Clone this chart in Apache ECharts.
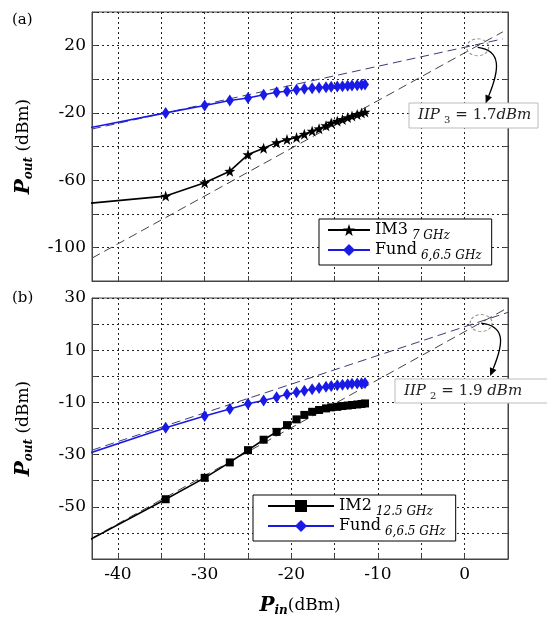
<!DOCTYPE html>
<html>
<head>
<meta charset="utf-8">
<script src="https://cdn.jsdelivr.net/npm/echarts@6/dist/echarts.min.js"></script>
<style>
  html, body { margin: 0; padding: 0; background: #fff; }
  #chart { width: 547px; height: 619px; }
</style>
</head>
<body>
<div id="chart"></div>
<script>
// ---- data ----
// input power sweep, first point lies left of the visible range (line only)
const pin = [-45, -34.5, -30, -27.1, -25, -23.2, -21.7, -20.5, -19.4, -18.5, -17.6,
  -16.8, -16, -15.4, -14.7, -14.1, -13.5, -13, -12.4, -11.9, -11.5];

// panel (a)
const fundA = [-30.6, -20, -15.6, -12.6, -11.2, -9.2, -7.7, -7.1, -6.3, -5.7, -5.3,
  -5.0, -4.7, -4.5, -4.3, -4.1, -3.9, -3.7, -3.5, -3.3, -3.1];
const im3A = [-74.6, -69.5, -61.6, -54.7, -44.8, -41, -37.7, -35.9, -34.7, -32.7, -30.8,
  -29.4, -27.6, -26.0, -24.9, -23.9, -22.8, -21.9, -20.9, -20.1, -19.5];
const extPinA = [-43, 4.4];
const fundExtA = [-29.6, 24.0];
const im3ExtA = [-106.4, 28.2];
const iip3Mark = [1.5, 19];

// panel (b)
const fundB = [-31.3, -19.7, -15.2, -12.5, -10.5, -9.3, -8.0, -6.9, -6.1, -5.5, -4.95,
  -4.5, -4.0, -3.7, -3.4, -3.2, -3.0, -2.9, -2.8, -2.7, -2.6];
const im2B = [-65.7, -47.1, -38.9, -33, -28.3, -24.3, -21.3, -18.7, -16.5, -14.8, -13.6,
  -12.9, -12.3, -11.9, -11.7, -11.4, -11.2, -11.0, -10.8, -10.6, -10.4];
const extPinB = [-43, 5];
const fundExtB = [-28.3, 24.5];
const im2ExtB = [-62, 26.3];
const iip2Mark = [1.9, 20.4];

// tick labels
const xLabels = [-40, -30, -20, -10, 0];
const yLabelsA = [-100, -60, -20, 20];
const yLabelsB = [-50, -30, -10, 10, 30];

const legendText = {
  'IM3': '{m|IM3}{s|7 GHz}',
  'Fund (a)': '{m|Fund}{s|6,6.5 GHz}',
  'IM2': '{m|IM2}{s|12.5 GHz}',
  'Fund (b)': '{m|Fund}{s|6,6.5 GHz}'
};

// ---- styling helpers ----
const SERIF = 'DejaVu Serif';
const STAR = 'path://M0,-10L2.35,-3.24L9.51,-3.09L3.8,1.24L5.88,8.09L0,4L-5.88,8.09L-3.8,1.24L-9.51,-3.09L-2.35,-3.24Z';

function pairs(xs, ys) {
  return xs.map((x, i) => [x, ys[i]]);
}

function dataSeries(name, xi, yi, ys, color, symbol, size) {
  return {
    name: name, type: 'line', xAxisIndex: xi, yAxisIndex: yi,
    data: pairs(pin, ys), symbol: symbol, symbolSize: size, showAllSymbol: true,
    lineStyle: { color: color, width: 1.6 }, itemStyle: { color: color },
    clip: true, z: 4
  };
}

function dashSeries(xi, yi, xs, ys, color) {
  return {
    type: 'line', xAxisIndex: xi, yAxisIndex: yi, data: pairs(xs, ys),
    symbol: 'none', silent: true, clip: true, z: 3,
    lineStyle: { color: color, width: 1, type: [9, 5] }
  };
}

function ringSeries(xi, yi, pt) {
  return {
    type: 'scatter', xAxisIndex: xi, yAxisIndex: yi, data: [pt], silent: true,
    symbol: 'circle', symbolSize: [22, 17], z: 5,
    itemStyle: { color: 'rgba(0,0,0,0)', borderColor: '#777', borderWidth: 1, borderType: [3, 2] }
  };
}

const gridLine = { show: true, lineStyle: { color: '#222', width: 1, type: [2, 3] } };
const tickStyle = { show: true, inside: true, length: 5, lineStyle: { color: '#444' } };
const labelStyle = { fontFamily: SERIF, fontSize: 17, color: '#000' };
const nameRich = {
  p: { fontFamily: SERIF, fontSize: 20, fontWeight: 'bold', fontStyle: 'italic', color: '#000' },
  s: { fontFamily: SERIF, fontSize: 12, fontWeight: 'bold', fontStyle: 'italic', color: '#000', padding: [10, 0, 0, 0] },
  u: { fontFamily: SERIF, fontSize: 17, color: '#000' }
};

function xAxisCfg(gridIndex, showLabels) {
  return {
    type: 'value', gridIndex: gridIndex, min: -43, max: 5,
    splitNumber: 10, minInterval: 5, maxInterval: 5,
    axisLine: { show: true, onZero: false, lineStyle: { color: '#444' } },
    axisTick: tickStyle, splitLine: gridLine,
    axisLabel: Object.assign({
      show: showLabels, margin: 7,
      formatter: v => (xLabels.includes(v) ? String(v) : '')
    }, labelStyle),
    name: showLabels ? '{p|P}{s|in}{u|(dBm)}' : '',
    nameLocation: 'middle', nameGap: 36,
    nameTextStyle: { rich: nameRich }
  };
}

function yAxisCfg(gridIndex, min, max, interval, labels) {
  return {
    type: 'value', gridIndex: gridIndex, min: min, max: max, interval: interval,
    axisLine: { show: true, onZero: false, lineStyle: { color: '#444' } },
    axisTick: tickStyle, splitLine: gridLine,
    axisLabel: Object.assign({
      margin: 6,
      formatter: v => (labels.includes(v) ? String(v) : '')
    }, labelStyle),
    name: '{p|P}{s|out}{u| (dBm)}',
    nameLocation: 'middle', nameRotate: 90, nameGap: 57,
    nameTextStyle: { rich: nameRich }
  };
}

function yMirrorCfg(gridIndex, min, max, interval) {
  return {
    type: 'value', gridIndex: gridIndex, position: 'right', min: min, max: max, interval: interval,
    axisLine: { show: true, onZero: false, lineStyle: { color: '#444' } },
    axisTick: tickStyle, splitLine: { show: false }, axisLabel: { show: false }
  };
}

const legendRich = {
  m: { fontFamily: SERIF, fontSize: 16, color: '#000' },
  s: { fontFamily: SERIF, fontSize: 12, fontStyle: 'italic', color: '#000', padding: [12, 0, 0, 4] }
};

function legendCfg(names, left, top, itemWidth, pad) {
  return {
    data: names, left: left, top: top, orient: 'vertical',
    itemWidth: itemWidth, itemHeight: 15, itemGap: 0,
    padding: pad, borderColor: '#000', borderWidth: 1, backgroundColor: '#fff',
    selectedMode: false, z: 10,
    formatter: n => legendText[n],
    textStyle: { rich: legendRich }
  };
}

const chart = echarts.init(document.getElementById('chart'), null, { renderer: 'canvas' });

chart.setOption({
  animation: false,
  backgroundColor: '#fff',
  grid: [
    { left: 92, top: 12, width: 416, height: 269, show: true, borderColor: '#444', borderWidth: 1 },
    { left: 92, top: 298, width: 416, height: 261, show: true, borderColor: '#444', borderWidth: 1 }
  ],
  xAxis: [xAxisCfg(0, false), xAxisCfg(1, true)],
  yAxis: [
    yAxisCfg(0, -120, 40, 20, yLabelsA),
    yMirrorCfg(0, -120, 40, 20),
    yAxisCfg(1, -70, 30, 10, yLabelsB),
    yMirrorCfg(1, -70, 30, 10)
  ],
  legend: [
    legendCfg(['IM3', 'Fund (a)'], 319, 219, 42, [3, 10, 3, 8]),
    legendCfg(['IM2', 'Fund (b)'], 253, 495, 66, [3, 10, 3, 14])
  ],
  series: [
    dashSeries(0, 0, extPinA, fundExtA, '#3c3c78'),
    dashSeries(0, 0, extPinA, im3ExtA, '#444'),
    dataSeries('IM3', 0, 0, im3A, '#000', STAR, 11),
    dataSeries('Fund (a)', 0, 0, fundA, '#1a1ae6', 'diamond', [8, 12]),
    ringSeries(0, 0, iip3Mark),

    dashSeries(1, 2, extPinB, fundExtB, '#3c3c78'),
    dashSeries(1, 2, extPinB, im2ExtB, '#444'),
    dataSeries('IM2', 1, 2, im2B, '#000', 'rect', 8),
    dataSeries('Fund (b)', 1, 2, fundB, '#1a1ae6', 'diamond', [8, 12]),
    ringSeries(1, 2, iip2Mark)
  ]
});

// ---- annotations: curved arrows from the intercept ring to the value boxes ----
function arrowGroup(start, tip, boxRect, boxText) {
  const cp1 = [start[0] + 24, start[1] + 3];
  const cp2 = [tip[0] + 14, tip[1] - 34];
  const ang = Math.atan2(tip[1] - cp2[1], tip[0] - cp2[0]);
  const L = 8, W = 3.5;
  const bx = tip[0] - L * Math.cos(ang), by = tip[1] - L * Math.sin(ang);
  const head = [
    tip,
    [bx + W * Math.sin(ang), by - W * Math.cos(ang)],
    [bx - W * Math.sin(ang), by + W * Math.cos(ang)]
  ];
  return [
    {
      type: 'bezierCurve', z: 20, silent: true,
      shape: { x1: start[0], y1: start[1], x2: bx, y2: by, cpx1: cp1[0], cpy1: cp1[1], cpx2: cp2[0], cpy2: cp2[1] },
      style: { stroke: '#000', lineWidth: 1.3, fill: null }
    },
    { type: 'polygon', z: 20, silent: true, shape: { points: head }, style: { fill: '#000' } },
    {
      type: 'rect', z: 19, silent: true, shape: boxRect,
      style: { fill: '#fff', stroke: '#bbb', lineWidth: 1 }
    },
    {
      type: 'text', z: 21, silent: true,
      x: boxRect.x + 9, y: boxRect.y + boxRect.height / 2,
      style: {
        text: boxText, verticalAlign: 'middle',
        rich: {
          i: { fontFamily: SERIF, fontSize: 15, fontStyle: 'italic', fill: '#222' },
          n: { fontFamily: SERIF, fontSize: 15, fill: '#222' },
          s: { fontFamily: SERIF, fontSize: 10, fill: '#222', padding: [10, 5, 0, 4] }
        }
      }
    }
  ];
}

const p3 = chart.convertToPixel({ xAxisIndex: 0, yAxisIndex: 0 }, iip3Mark);
const p2 = chart.convertToPixel({ xAxisIndex: 1, yAxisIndex: 2 }, iip2Mark);

chart.setOption({
  graphic: [
    { type: 'text', left: 12, top: 13, style: { text: '(a)', fontFamily: SERIF, fontSize: 15, fill: '#000' } },
    { type: 'text', left: 12, top: 291, style: { text: '(b)', fontFamily: SERIF, fontSize: 15, fill: '#000' } }
  ]
    .concat(arrowGroup(p3, [p3[0] + 8, p3[1] + 56],
      { x: 409, y: 103, width: 129, height: 25 },
      '{i|IIP}{s|3}{n|= 1.7}{i|dBm}'))
    .concat(arrowGroup(p2, [p2[0] + 9, p2[1] + 53],
      { x: 395, y: 379, width: 170, height: 24 },
      '{i|IIP}{s|2}{n|= 1.9 }{i|dBm}'))
});
</script>
</body>
</html>
